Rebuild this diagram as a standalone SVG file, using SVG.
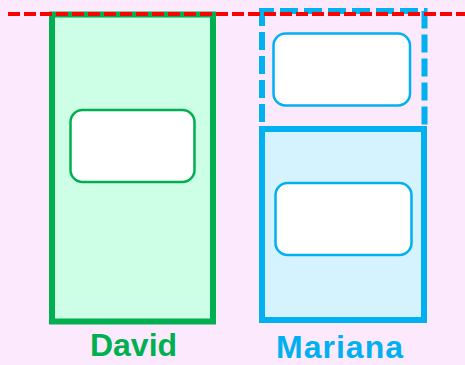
<svg xmlns="http://www.w3.org/2000/svg" width="465" height="365" viewBox="0 0 465 365">
<style>
.txt{font-family:"Liberation Sans",Arial,sans-serif;font-weight:bold;font-size:32px;text-anchor:middle}
.inner{fill:#FFFFFF;stroke-width:2.5}
</style>
<rect x="0" y="0" width="465" height="365" fill="#FDE9FD"/>
<g id="david">
<rect x="52" y="14.5" width="161" height="307" fill="#CCFFE5" stroke="#00B050" stroke-width="6"/>
<rect class="inner" x="70.5" y="110" width="124" height="72" rx="12" stroke="#00B050"/>
<text class="txt" x="133.5" y="356" fill="#00B050">David</text>
</g>
<g id="mariana-future">
<rect x="262" y="11" width="162.5" height="118" fill="none" stroke="#00B0F0" stroke-width="6" stroke-dasharray="18 6" stroke-dashoffset="6"/>
<rect class="inner" x="273.5" y="33.5" width="136.5" height="72" rx="12" stroke="#00B0F0"/>
</g>
<g id="mariana">
<rect x="262" y="129" width="162" height="191" fill="#D5F3FF" stroke="#00B0F0" stroke-width="6"/>
<rect class="inner" x="275.5" y="183" width="136" height="72" rx="12" stroke="#00B0F0"/>
<text class="txt" x="339.5" y="358" fill="#00B0F0" textLength="127" lengthAdjust="spacing">Mariana</text>
</g>
<g id="connectors">
<line x1="8" y1="14" x2="465" y2="14" stroke="#FF0000" stroke-width="4" stroke-dasharray="12 4"/>
</g>
</svg>
